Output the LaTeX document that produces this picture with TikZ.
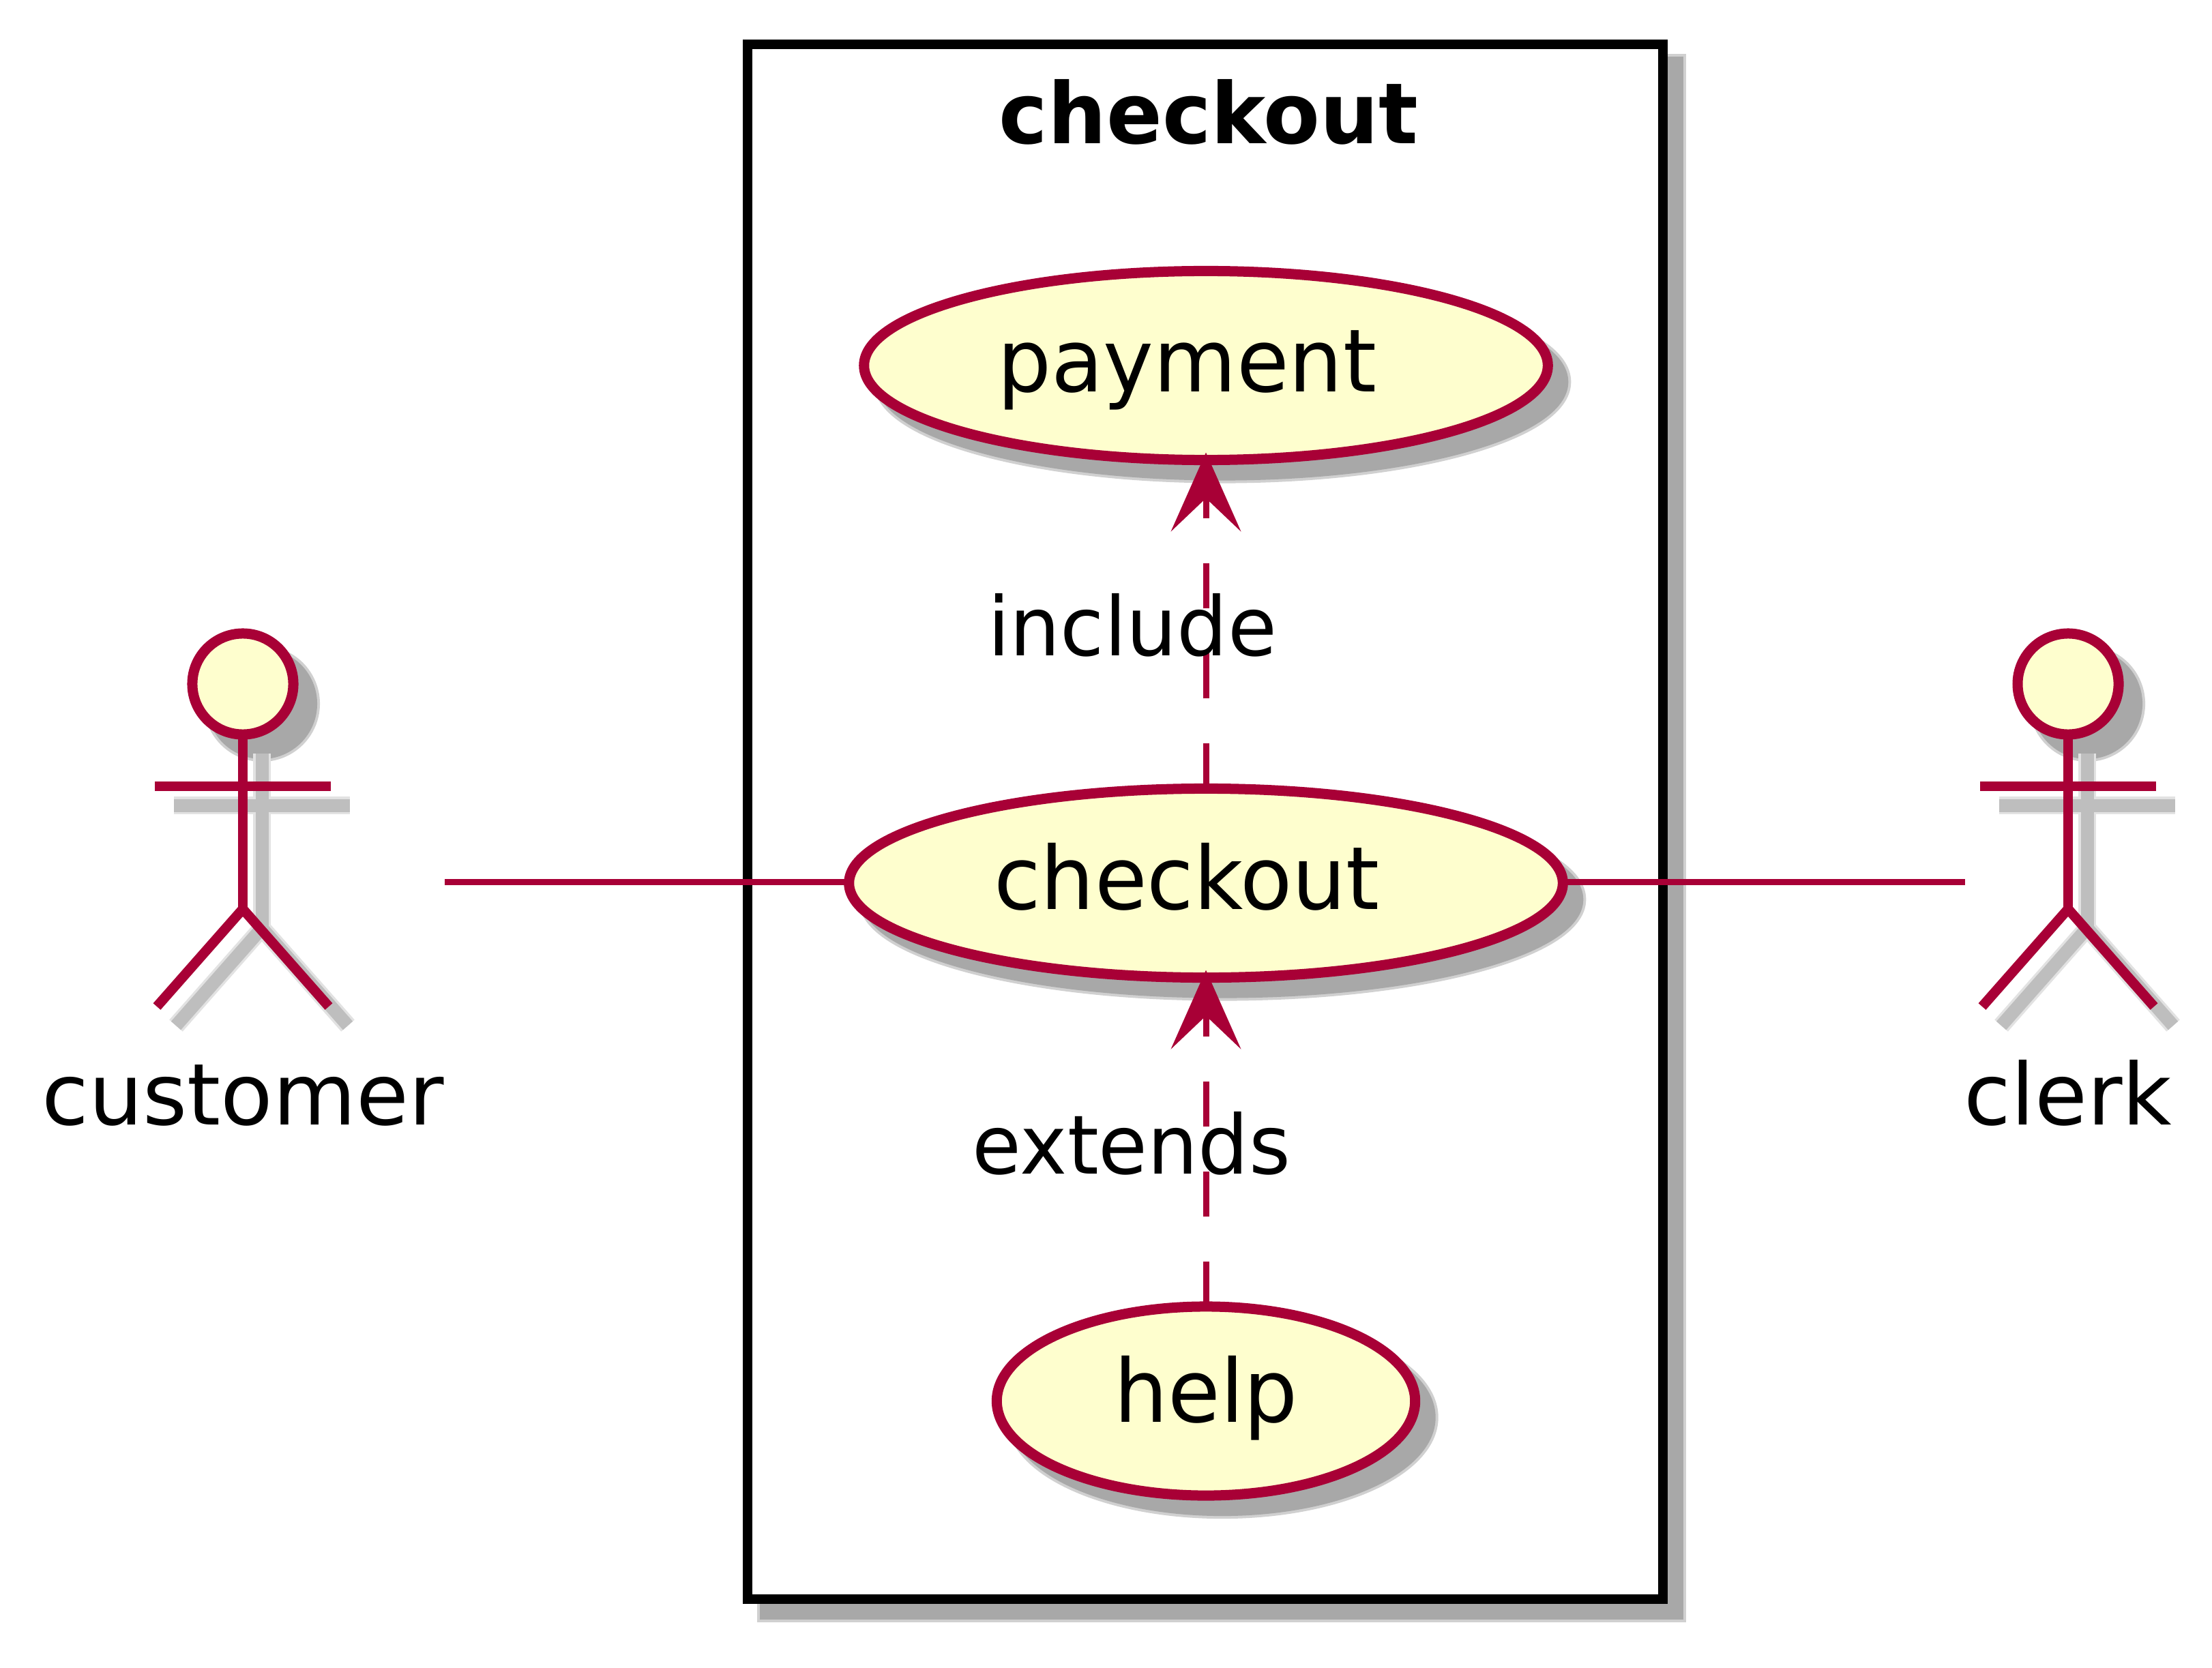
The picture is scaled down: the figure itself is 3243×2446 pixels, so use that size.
\documentclass[tikz,border=0pt]{standalone}
\usepackage{fontspec}
\setmainfont{DejaVu Sans}
\newfontfamily\ucfont[FakeStretch=.975]{DejaVu Sans}
\usetikzlibrary{arrows.meta, shapes.geometric, shadows}
\definecolor{ucred}{HTML}{A80036}
\definecolor{ucfill}{HTML}{FEFECE}
\definecolor{shadegrey}{HTML}{A8A8A8}
\definecolor{shadesoft}{HTML}{D0D0D0}
\definecolor{shadeline}{HTML}{BEBEBE}
\definecolor{shadefaint}{HTML}{E2E2E2}

\begin{document}
\begin{tikzpicture}[
  x=0.01cm, y=-0.01cm,
  softshadow/.style={
    general shadow={shadow xshift=.24cm, shadow yshift=-.24cm, fill=shadesoft, draw=shadesoft, line width=.2cm},
    general shadow={shadow xshift=.24cm, shadow yshift=-.24cm, fill=shadegrey, draw=shadegrey, line width=.12cm}},
  usecase/.style={ellipse, draw=ucred, fill=ucfill, line width=.15cm, inner sep=0pt, outer sep=0pt,
    minimum height=2.77cm, text height=.97cm, text depth=.21cm, softshadow,
    font=\ucfont\fontsize{36.4}{40}\selectfont},
  packagebox/.style={draw=black, fill=white, line width=.14cm, inner sep=0pt, outer sep=0pt, softshadow},
  titletext/.style={anchor=base, inner sep=0pt, font=\ucfont\fontsize{35.2}{40}\selectfont\bfseries},
  actortext/.style={anchor=base, inner sep=0pt, font=\fontsize{35.6}{40}\selectfont},
  linktext/.style={anchor=base, inner sep=0pt, font=\ucfont\fontsize{34.1}{40}\selectfont},
  assoc/.style={draw=ucred, line width=.09cm},
  depend/.style={assoc, dash pattern=on .66cm off .66cm, shorten >=-.11cm,
    -{Stealth[length=1.16cm, width=1.03cm, inset=.49cm, line width=0pt]}},
  actorfaint/.style={draw=shadefaint, line width=.26cm},
  actorshade/.style={draw=shadeline, line width=.19cm},
  actorline/.style={draw=ucred, line width=.145cm},
  actorfig/.pic={
    \fill[shadesoft] (28,29) circle [radius=.85cm];
    \fill[shadegrey] (28,29) circle [radius=.81cm];
    \foreach \looks/\off in {actorfaint/28, actorshade/28, actorline/0} {
      \draw[\looks, shift={(\off,\off)}] (0,74) -- (0,330);
      \draw[\looks, shift={(\off,\off)}] (-129,150) -- (129,150);
      \draw[\looks, shift={(\off,\off)}] (-126,473) -- (0,330) -- (126,473);
    }
    \draw[ucred, fill=ucfill, line width=.15cm] (0,0) circle [radius=.74cm];
  }
]
  \useasboundingbox (0,0) rectangle (3243,2446);
  \fill[white] (0,0) rectangle (3243,2446);

  \node[packagebox, minimum width=13.42cm, minimum height=22.79cm] (pkgbox) at (1767,1205) {};
  \node[titletext] (pkgtitle) at (1772,211) {checkout};

  \node[usecase, minimum width=10.02cm] (payment) at (1768,536) {payment\hspace*{.56cm}};
  \node[usecase, minimum width=10.46cm] (checkout) at (1768,1295) {checkout\hspace*{.56cm}};
  \node[usecase, minimum width=6.13cm, text depth=.36cm] (help) at (1768,2054.5) {help};

  \pic at (356,1003) {actorfig};
  \pic at (3032,1003) {actorfig};
  \node[actortext] (customer) at (356,1649) {customer};
  \node[actortext] (clerk) at (3032,1649) {clerk};
  \coordinate (customerend) at (652,1293);
  \coordinate (clerkend) at (2881,1293);

  \draw[assoc] (customerend) -- (customerend -| checkout.west);
  \draw[assoc] (clerkend -| checkout.east) -- (clerkend);
  \draw[depend] (checkout.north) -- (payment.south);
  \draw[depend] (help.north) -- (checkout.south);

  \node[linktext] (includelabel) at (1660,961) {include};
  \node[linktext] (extendslabel) at (1659,1721) {extends};
\end{tikzpicture}
\end{document}
